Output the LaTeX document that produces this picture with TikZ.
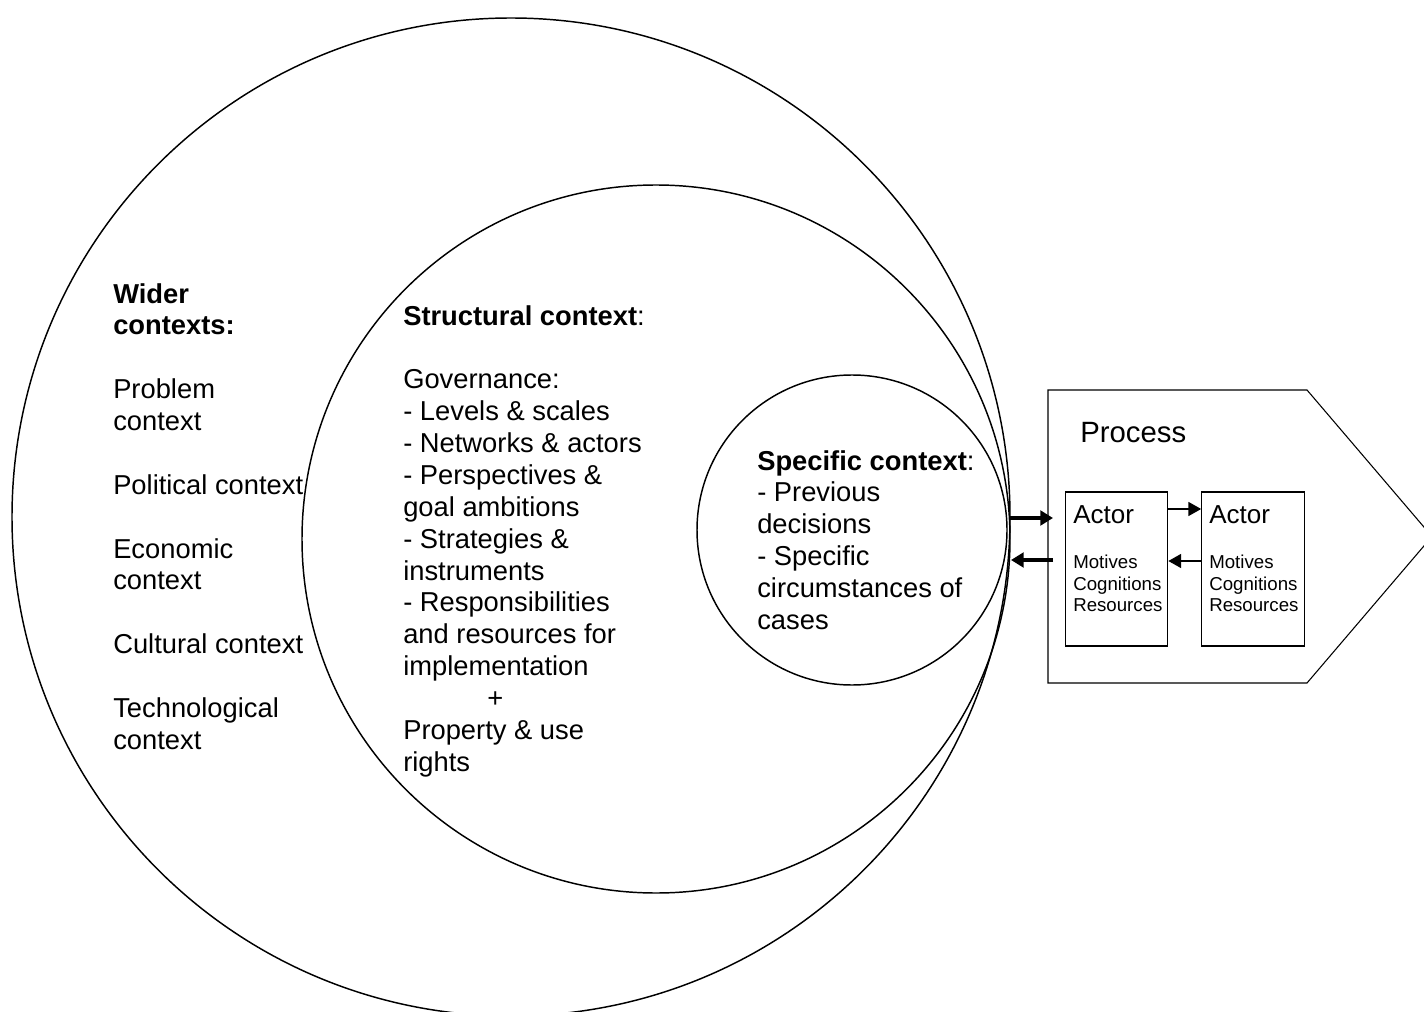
\documentclass[tikz,border=0pt]{standalone}
\usepackage{fontspec}
\setmainfont{Liberation Sans}
\usetikzlibrary{arrows.meta}
\begin{document}
\begin{tikzpicture}[x=0.75pt,y=-0.75pt,
  ring/.style={circle, draw, line width=1.1pt, inner sep=0pt},
  txt/.style={anchor=north west, inner sep=0pt, align=left, font=\fontsize{20.5pt}{23.9pt}\selectfont},
  actorbox/.style={draw, line width=0.8pt, minimum width=77pt, minimum height=115.5pt, inner sep=0pt},
  actorlabel/.style={anchor=north west, inner sep=0pt, font=\fontsize{19.5pt}{23pt}\selectfont},
  smalltxt/.style={anchor=north west, inner sep=0pt, align=left, font=\fontsize{14pt}{16.1pt}\selectfont},
  bigarrow/.style={-{Triangle[length=9.5pt,width=11pt]}, line width=2.3pt},
  smallarrow/.style={-{Triangle[length=9.5pt,width=10.5pt]}, line width=0.8pt}]
\clip (0,0) rectangle (1424,1012);
% rings
\node[ring, minimum size=748.5pt] (outer) at (511,517) {};
\node[ring, minimum size=531pt] (struct) at (656,539) {};
\node[ring, minimum size=232.5pt] (spec) at (852,530) {};
% texts in rings
\node[txt] (wider) at (113,283) {\textbf{Wider}\\ \textbf{contexts:}\\[23.9pt] Problem\\ context\\[23.9pt] Political context\\[23.9pt] Economic\\ context\\[23.9pt] Cultural context\\[23.9pt] Technological\\ context};
\node[txt] (structtxt) at (403,305) {\textbf{Structural context}:\\[23.9pt] Governance:\\ - Levels \& scales\\ - Networks \& actors\\ - Perspectives \&\\ goal ambitions\\ - Strategies \&\\ instruments\\ - Responsibilities\\ and resources for\\ implementation\\ \hspace*{63pt}+\\ Property \& use\\ rights};
\node[txt] (spectxt) at (757,450) {\textbf{Specific context}:\\ - Previous\\ decisions\\ - Specific\\ circumstances of\\ cases};
% process
\draw[line width=0.8pt] (1048,390) coordinate (pnw) -- (1307,390) coordinate (pne) -- (1432,536.5) coordinate (ptip) -- (1307,683) coordinate (pse) -- (1048,683) coordinate (psw) -- cycle;
\node[anchor=north west, inner sep=0pt, font=\fontsize{22pt}{26pt}\selectfont] (proclabel) at (1080,422) {Process};
% actors
\node[actorbox] (box1) at (1116.5,569) {};
\node[actorbox] (box2) at (1253,569) {};
\node[actorlabel] (act1) at (1073,505) {Actor};
\node[actorlabel] (act2) at (1209,505) {Actor};
\node[smalltxt] (mcr1) at (1073,555) {Motives\\ Cognitions\\ Resources};
\node[smalltxt] (mcr2) at (1209,555) {Motives\\ Cognitions\\ Resources};
\draw[smallarrow] ([yshift=45pt]box1.east) -- ([yshift=45pt]box2.west);
\draw[smallarrow] ([yshift=6pt]box2.west) -- ([yshift=6pt]box1.east);
% arrows between context and process
\coordinate (ringA) at (1010,518);
\coordinate (procA) at (1053,518);
\coordinate (ringB) at (1011,560);
\coordinate (procB) at (1053,560);
\draw[bigarrow] (ringA) -- (procA);
\draw[bigarrow] (procB) -- (ringB);
\end{tikzpicture}
\end{document}
